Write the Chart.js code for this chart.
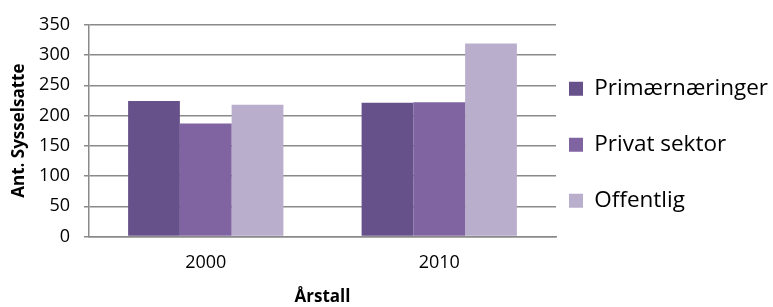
<!DOCTYPE html>
<html>
<head>
<meta charset="utf-8">
<script src="https://cdn.jsdelivr.net/npm/chart.js@4/dist/chart.umd.min.js"></script>
<style>
  body { margin: 0; background: #fff; }
</style>
</head>
<body>
<canvas id="myChart" width="773" height="307"></canvas>
<script>
// data
var years = ['2000', '2010'];
var primaer = [224, 221];
var privat = [187, 222];
var offentlig = [218, 319];
var seriesNames = ['Primærnæringer', 'Privat sektor', 'Offentlig'];
var yMax = 350, yStep = 50;

var gridGray = '#8a8a8a';

Chart.defaults.font.family = "'Open Sans', sans-serif";
Chart.defaults.color = '#000';

// put legend where Excel has it
var legendPlace = {
  id: 'legendPlace',
  afterLayout: function(chart) {
    var lg = chart.legend;
    lg.left = 569 - lg.options.labels.padding;
    lg.top -= 19;
    lg.bottom -= 19;
  }
};

var ctx = document.getElementById('myChart').getContext('2d');
var myChart = new Chart(ctx, {
  type: 'bar',
  data: {
    labels: years,
    datasets: [
      { label: seriesNames[0], data: primaer, backgroundColor: '#67518a' },
      { label: seriesNames[1], data: privat, backgroundColor: '#8064a2' },
      { label: seriesNames[2], data: offentlig, backgroundColor: '#b9aecb' }
    ]
  },
  options: {
    responsive: false,
    animation: false,
    layout: { padding: { top: 20.5, left: 0, right: 0, bottom: 0 } },
    datasets: {
      bar: { categoryPercentage: 0.665, barPercentage: 1.0 }
    },
    plugins: {
      tooltip: { enabled: false },
      legend: {
        position: 'right',
        maxWidth: 217,
        labels: {
          boxWidth: 14,
          boxHeight: 14,
          padding: 33.5,
          font: { size: 22.5 },
          color: '#000'
        }
      }
    },
    scales: {
      x: {
        grid: { display: false, drawTicks: false },
        border: { display: true, color: gridGray, width: 1.5 },
        ticks: { font: { size: 18 }, padding: 16 },
        title: {
          display: true,
          text: 'Årstall',
          font: { size: 17, weight: 'bold' },
          padding: { top: 0, bottom: 0 }
        },
        afterFit: function(s) { s.height = 70.5; }
      },
      y: {
        min: 0,
        max: yMax,
        ticks: { stepSize: yStep, font: { size: 18 }, padding: 14 },
        grid: { color: gridGray, lineWidth: 1.5, tickLength: 5 },
        border: { display: true, color: gridGray, width: 1.5 },
        title: {
          display: true,
          text: 'Ant. Sysselsatte',
          font: { size: 17, weight: 'bold' },
          padding: { top: 9.4, bottom: 0 }
        },
        afterFit: function(s) { s.width = 89; }
      }
    }
  },
  plugins: [legendPlace]
});
</script>
</body>
</html>
